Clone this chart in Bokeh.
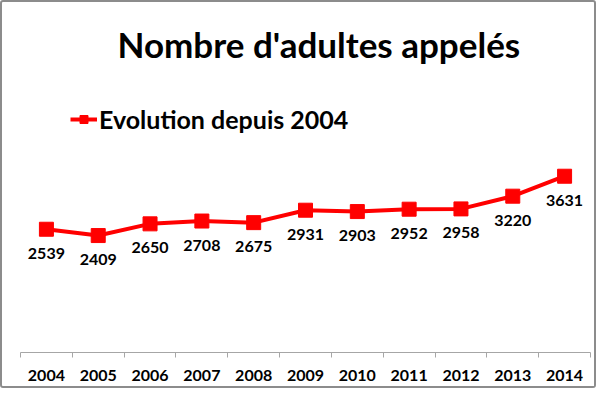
from bokeh.plotting import figure
from bokeh.models import Range1d, FixedTicker, ColumnDataSource, LabelSet
from bokeh.core.properties import value
from bokeh.embed import file_html
from bokeh.resources import INLINE

# ---- data ----
years = [2004, 2005, 2006, 2007, 2008, 2009, 2010, 2011, 2012, 2013, 2014]
values = [2539, 2409, 2650, 2708, 2675, 2931, 2903, 2952, 2958, 3220, 3631]
value_labels = [str(v) for v in values]
year_labels = [str(y) for y in years]
title_text = "Nombre d'adultes appelés"
series_name = "Evolution depuis 2004"

FONT = "Lato"
RED = "#ff0000"

src = ColumnDataSource(dict(x=years, y=values, lab=value_labels))

p = figure(width=596, height=388, output_backend="svg", toolbar_location=None,
           x_range=Range1d(years[0] - 0.5, years[-1] + 0.5),
           y_range=Range1d(0, 5850), y_axis_location=None,
           min_border_left=18, min_border_right=8, min_border_top=66,
           min_border_bottom=38, title=title_text)
p.styles = {"border": "2px solid #8c8c8c", "border-radius": "3px"}
p.outline_line_color = None
p.grid.visible = False
p.background_fill_color = "white"
p.border_fill_color = "white"

p.title.align = "left"
p.title.offset = 97
p.title.standoff = 7
p.title.text_font = FONT
p.title.text_font_size = "35px"
p.title.text_font_style = "bold"
p.title.text_color = "black"

ax = p.xaxis[0]
ax.ticker = FixedTicker(ticks=years,
                        minor_ticks=[y - 0.5 for y in years] + [years[-1] + 0.5])
ax.major_label_overrides = {y: s for y, s in zip(years, year_labels)}
ax.major_tick_line_color = None
ax.minor_tick_line_color = "#a6a6a6"
ax.minor_tick_in = 0
ax.minor_tick_out = 5
ax.axis_line_color = "#a6a6a6"
ax.major_label_text_font = FONT
ax.major_label_text_font_size = "16px"
ax.major_label_text_font_style = "bold"
ax.major_label_text_color = "black"
ax.major_label_standoff = 11

p.line("x", "y", source=src, line_color=RED, line_width=4, legend_label=series_name)
p.scatter("x", "y", source=src, marker="square", size=14, color=RED,
          legend_label=series_name)

labels = LabelSet(x="x", y="y", text="lab", source=src, y_offset=-24,
                  text_align="center", text_baseline="middle",
                  text_font=value(FONT), text_font_size="16px",
                  text_font_style="bold", text_color="black")
p.add_layout(labels)

lg = p.legend[0]
lg.location = (50, 218)
lg.margin = 0
lg.padding = 0
lg.border_line_color = None
lg.background_fill_alpha = 0
lg.glyph_width = 27
lg.glyph_height = 20
lg.label_standoff = 2
lg.label_text_font = FONT
lg.label_text_font_size = "25px"
lg.label_text_font_style = "bold"
lg.label_text_color = "black"

open("out.html", "w").write(file_html(p, INLINE))
